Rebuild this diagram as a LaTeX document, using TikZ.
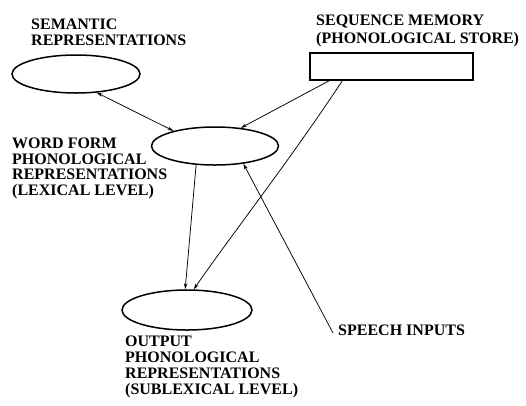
\documentclass[tikz,border=0pt]{standalone}
\usepackage{fontspec}
\setmainfont{Liberation Serif}
\usetikzlibrary{arrows.meta,shapes.geometric}

\tikzset{
  lbl/.style={font=\bfseries\fontsize{16}{15.5}\selectfont, align=left,
              inner sep=0pt, anchor=north west},
  unit/.style={draw, ellipse, line width=1.5pt, inner sep=0pt},
  link/.style={line width=0.75pt, ->}
}

\begin{document}
\begin{tikzpicture}[x=1pt, y=-1pt, >={Stealth[length=6pt,width=3.5pt]}]

  \useasboundingbox (0,0) rectangle (526,405);

  % the three representation levels
  \node[unit, minimum width=128pt, minimum height=38pt] (sem)  at (76,74)  {};
  \node[unit, minimum width=127pt, minimum height=38pt] (word) at (215,146) {};
  \node[unit, minimum width=130pt, minimum height=40pt] (out)  at (187,310) {};

  % the store
  \node[draw, line width=1.3pt, minimum width=163pt, minimum height=27pt,
        inner sep=0pt] (seq) at (391.5,66.5) {};

  % labels
  \node[lbl] (semlabel)  at (31,19)   {SEMANTIC\\REPRESENTATIONS};
  \node[lbl] (wordlabel) at (12,138)  {WORD FORM\\PHONOLOGICAL\\REPRESENTATIONS\\(LEXICAL LEVEL)};
  \node[lbl, font=\bfseries\fontsize{16}{16}\selectfont]
             (outlabel)  at (125,336) {OUTPUT\\PHONOLOGICAL\\REPRESENTATIONS\\(SUBLEXICAL LEVEL)};
  \node[lbl, font=\bfseries\fontsize{16}{18}\selectfont]
             (seqlabel)  at (316,15)  {SEQUENCE MEMORY\\(PHONOLOGICAL STORE)};
  \node[lbl] (speech)    at (338,325) {SPEECH INPUTS};

  % connections
  \draw[link, <->] (sem.-42) -- (word.160);
  \draw[link] ([xshift=20pt]seq.south west) -- (word.35);
  \draw[link] ([xshift=33pt]seq.south west)
     .. controls (290,160) and (235,230) .. (out.72);
  \draw[link] (word.-135) -- (out.95);
  \draw[link] ([shift={(-5pt,-8pt)}]speech.north west) -- (word.-32);

\end{tikzpicture}
\end{document}
